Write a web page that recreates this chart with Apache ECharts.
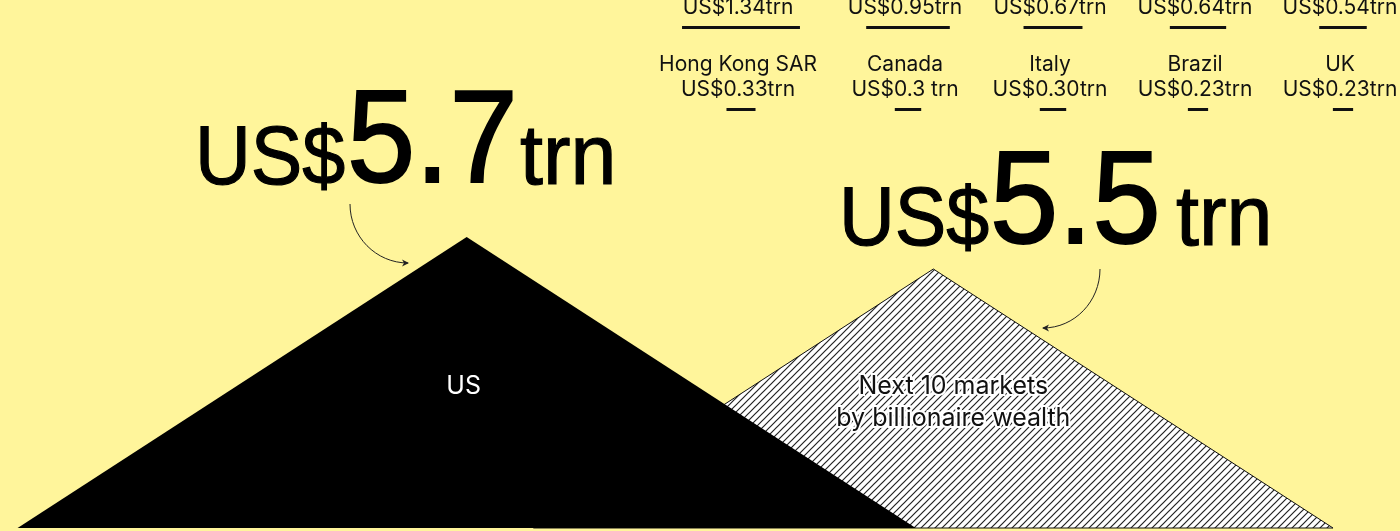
<!DOCTYPE html>
<html lang="en">
<head>
<meta charset="UTF-8">
<title>Billionaire wealth: US vs next 10 markets</title>
<script src="https://cdn.jsdelivr.net/npm/echarts@6/dist/echarts.min.js"></script>
<style>
  html, body { margin: 0; height: 100%; background: #fff59b; }
  #main { width: 1400px; height: 531px; }
</style>
</head>
<body>
<div id="main"></div>
<script>
// billionaire wealth, US$ trn
const groupNames = ['US', 'Next 10 markets\nby billionaire wealth'];
const groupValues = [5.7, 5.5];
const groupLabels = ['5.7', '5.5'];

// next 10 markets (names of the first row are cropped off the top)
const marketNames = [null, null, null, null, null, 'Hong Kong SAR', 'Canada', 'Italy', 'Brazil', 'UK'];
const marketValues = [1.34, 0.95, 0.67, 0.64, 0.54, 0.33, 0.30, 0.30, 0.23, 0.23];
const marketLabels = ['US$1.34trn', 'US$0.95trn', 'US$0.67trn', 'US$0.64trn', 'US$0.54trn',
                      'US$0.33trn', 'US$0.3 trn', 'US$0.30trn', 'US$0.23trn', 'US$0.23trn'];

// layout
const Y_MIN = 3.88125, Y_MAX = 7.18125;   // mountain height scale (160px per trn)
const SLOPE = 0.648;                        // flank steepness, same for both peaks
const BAR_PX = 88;                          // underline px per trn
const colCenters = [738, 905, 1050, 1195, 1340];
const rowBaselines = [15, 97];
const bigLabelX = [[195, 347, 520], [839, 990, 1176]];
const bigLabelBase = [187, 248];
const bigParts = [[84, 0.92, 1.2], [132, 0.93, 2], [86, 0.96, 1.2]]; // size, scaleX, stroke
const innerLabel = [[-3, 396], [20, 396]];   // dx from peak, first baseline
const arrows = [[[350, 204], [408, 263]], [[1100, 269], [1043, 328]]];

const BIG_FONT = '"Liberation Sans", Arial, sans-serif';
const SMALL_FONT = 'Inter, "Noto Sans", sans-serif';
const midY = (base, fs, k) => base - fs * (k || 0.363);

// diagonal hatch tile
const T = 7;
const tile = document.createElement('canvas');
tile.width = tile.height = T;
const tc = tile.getContext('2d');
tc.fillStyle = '#ffffff';
tc.fillRect(0, 0, T, T);
tc.strokeStyle = '#222222';
tc.lineWidth = 1.2;
tc.beginPath();
tc.moveTo(-1, T + 1); tc.lineTo(T + 1, -1);
tc.moveTo(-1, 1); tc.lineTo(1, -1);
tc.moveTo(T - 1, T + 1); tc.lineTo(T + 1, T - 1);
tc.stroke();

function arrowEls(a) {
  const [p0, p1] = a;
  const dir = Math.sign(p1[0] - p0[0]);
  return [
    {
      type: 'bezierCurve',
      shape: {
        x1: p0[0], y1: p0[1], x2: p1[0], y2: p1[1],
        cpx1: p0[0], cpy1: p0[1] + 0.552 * (p1[1] - p0[1]),
        cpx2: p1[0] - 0.552 * (p1[0] - p0[0]), cpy2: p1[1]
      },
      style: { stroke: '#222', lineWidth: 1, fill: null }
    },
    {
      type: 'polygon',
      shape: { points: [[p1[0] + dir, p1[1]], [p1[0] - dir * 6, p1[1] - 3.5],
                        [p1[0] - dir * 4, p1[1]], [p1[0] - dir * 6, p1[1] + 3.5]] },
      style: { fill: '#222' }
    }
  ];
}

function renderPeak(params, api) {
  const i = params.dataIndex;
  const apex = api.coord([api.value(0), api.value(1)]);
  const baseY = api.coord([api.value(0), Y_MIN])[1];
  const half = (baseY - apex[1]) / SLOPE;
  const children = [];
  children.push({
    type: 'polygon',
    z2: i === 0 ? 10 : 1,
    shape: { points: [[apex[0] - half, baseY], apex, [apex[0] + half, baseY]] },
    style: i === 0
      ? { fill: '#000' }
      : { fill: { image: tile, repeat: 'repeat' }, stroke: '#111', lineWidth: 1 }
  });
  // inner label
  const lines = groupNames[i].split('\n');
  lines.forEach((t, k) => {
    children.push({
      type: 'text', z2: 20,
      style: {
        text: t, x: apex[0] + innerLabel[i][0], y: midY(innerLabel[i][1] + k * 31.5, 25),
        align: 'center', verticalAlign: 'middle',
        fontFamily: SMALL_FONT, fontSize: 25,
        fill: i === 0 ? '#fff' : '#111',
        stroke: i === 0 ? null : '#fff', lineWidth: i === 0 ? 0 : 4
      }
    });
  });
  // big value label
  const texts = ['US$', groupLabels[i], 'trn'];
  texts.forEach((t, k) => {
    const [fs, sx, sw] = bigParts[k];
    children.push({
      type: 'text', z2: 20,
      x: bigLabelX[i][k], y: midY(bigLabelBase[i], fs, 0.31), scaleX: sx,
      style: {
        text: t, x: 0, y: 0, align: 'left', verticalAlign: 'middle',
        fontFamily: BIG_FONT, fontSize: fs, fill: '#000', stroke: '#000', lineWidth: sw
      }
    });
  });
  arrowEls(arrows[i]).forEach(e => children.push(e));
  return { type: 'group', children };
}

function renderMarket(params, api) {
  const i = params.dataIndex;
  const cx = colCenters[i % 5];
  const base = rowBaselines[Math.floor(i / 5)];
  const w = api.size([api.value(0), 0])[0];
  const children = [
    { type: 'rect', shape: { x: cx + 3 - w / 2, y: base + 11, width: w, height: 3 }, style: { fill: '#111' } },
    {
      type: 'text',
      style: {
        text: marketLabels[i], x: cx, y: midY(base, 21), align: 'center', verticalAlign: 'middle',
        fontFamily: SMALL_FONT, fontSize: 21, fill: '#111'
      }
    }
  ];
  if (marketNames[i]) {
    children.push({
      type: 'text',
      style: {
        text: marketNames[i], x: cx, y: midY(base - 25, 21), align: 'center', verticalAlign: 'middle',
        fontFamily: SMALL_FONT, fontSize: 21, fill: '#111'
      }
    });
  }
  return { type: 'group', children };
}

const chart = echarts.init(document.getElementById('main'));
chart.setOption({
  backgroundColor: '#fff59b',
  animation: false,
  grid: [
    { left: 0, right: 0, top: 0, bottom: 3 },
    { left: 0, right: 0, top: 0, bottom: 0 }
  ],
  xAxis: [
    { type: 'value', gridIndex: 0, min: 0, max: 3, show: false },
    { type: 'value', gridIndex: 1, min: 0, max: 1400 / BAR_PX, show: false }
  ],
  yAxis: [
    { type: 'value', gridIndex: 0, min: Y_MIN, max: Y_MAX, show: false },
    { type: 'value', gridIndex: 1, min: 0, max: 1, show: false }
  ],
  series: [
    {
      type: 'custom', xAxisIndex: 0, yAxisIndex: 0,
      renderItem: renderPeak,
      data: groupValues.map((v, i) => [i + 1, v])
    },
    {
      type: 'custom', xAxisIndex: 1, yAxisIndex: 1,
      renderItem: renderMarket,
      data: marketValues.map(v => [v, 0])
    }
  ]
});
window.addEventListener('resize', () => chart.resize());
</script>
</body>
</html>
